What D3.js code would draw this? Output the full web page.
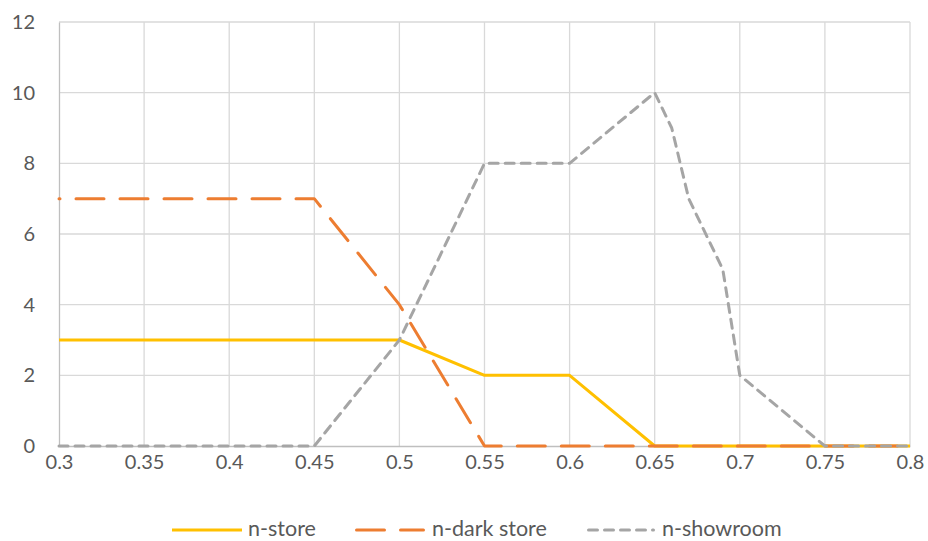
<!DOCTYPE html>
<html>
<head>
<meta charset="utf-8">
<script src="https://cdn.jsdelivr.net/npm/d3@7"></script>
<style>
  html, body { margin: 0; padding: 0; background: #fff; }
  svg text { font-family: Lato, "Open Sans", sans-serif; fill: #595959; }
</style>
</head>
<body>
<svg id="chart" width="928" height="541"></svg>
<script>
// Threshold values on the x axis
const xValues = [0.3, 0.35, 0.4, 0.45, 0.5, 0.55, 0.6, 0.65, 0.66, 0.67, 0.69, 0.7, 0.75, 0.8];

// Counts per facility type
const nStore     = [3, 3, 3, 3, 3, 2, 2, 0, 0, 0, 0, 0, 0, 0];
const nDarkStore = [7, 7, 7, 7, 4, 0, 0, 0, 0, 0, 0, 0, 0, 0];
const nShowroom  = [0, 0, 0, 0, 3, 8, 8, 10, 9, 7, 5, 2, 0, 0];

// Axis ticks
const xTicks = [0.3, 0.35, 0.4, 0.45, 0.5, 0.55, 0.6, 0.65, 0.7, 0.75, 0.8];
const yTicks = [0, 2, 4, 6, 8, 10, 12];

const seriesNames = ["n-store", "n-dark store", "n-showroom"];
const seriesValues = [nStore, nDarkStore, nShowroom];

const styles = [
  { color: "#FFC000", dash: null, offset: 0 },
  { color: "#ED7D31", dash: "28,16", offset: 27 },
  { color: "#A5A5A5", dash: "9,7", offset: 0 }
];

const svg = d3.select("#chart");
const margin = { left: 59, right: 18, top: 22, bottom: 95 };
const W = 928, H = 541;

const x = d3.scaleLinear().domain([0.3, 0.8]).range([margin.left, W - margin.right]);
const y = d3.scaleLinear().domain([0, 12]).range([H - margin.bottom, margin.top]);

// Gridlines
const grid = svg.append("g");
grid.selectAll("line.h").data(yTicks.filter(d => d > 0)).join("line")
  .attr("x1", x(0.3)).attr("x2", x(0.8))
  .attr("y1", d => y(d)).attr("y2", d => y(d))
  .attr("stroke", "#d9d9d9").attr("stroke-width", 1.3);
grid.selectAll("line.v").data(xTicks.filter(d => d > 0.3)).join("line")
  .attr("y1", y(0)).attr("y2", y(12))
  .attr("x1", d => x(d)).attr("x2", d => x(d))
  .attr("stroke", "#d9d9d9").attr("stroke-width", 1.3);

// Axes
const axisFont = "Lato, 'Open Sans', sans-serif";
const yAxis = d3.axisLeft(y).tickValues(yTicks).tickSize(0).tickPadding(24);
const gy = svg.append("g").attr("transform", `translate(${x(0.3)},0)`).call(yAxis);
gy.select(".domain").attr("stroke", "#bfbfbf").attr("stroke-width", 1.3);
gy.selectAll("text").attr("font-size", 20).attr("fill", "#595959").style("font-family", axisFont);

const xAxis = d3.axisBottom(x).tickValues(xTicks).tickSize(0).tickPadding(9)
  .tickFormat(d => String(+d.toFixed(2)));
const gx = svg.append("g").attr("transform", `translate(0,${y(0)})`).call(xAxis);
gx.select(".domain").attr("stroke", "#bfbfbf").attr("stroke-width", 1.3);
gx.selectAll("text").attr("font-size", 20).attr("fill", "#595959").style("font-family", axisFont);

// Series lines
const line = d3.line().x((d, i) => x(xValues[i])).y(d => y(d));
seriesValues.forEach((vals, k) => {
  const p = svg.append("path")
    .attr("d", line(vals))
    .attr("fill", "none")
    .attr("stroke", styles[k].color)
    .attr("stroke-width", 3)
    .attr("stroke-linejoin", "round")
    .attr("stroke-linecap", styles[k].dash ? "round" : "butt");
  if (styles[k].dash) p.attr("stroke-dasharray", styles[k].dash).attr("stroke-dashoffset", styles[k].offset);
});

// Legend
const legendY = 530;
const legendItems = [
  { x0: 172, x1: 242, tx: 248 },
  { x0: 356.5, x1: 423.5, tx: 432 },
  { x0: 588.5, x1: 653.5, tx: 662 }
];
const lg = svg.append("g");
legendItems.forEach((it, k) => {
  const l = lg.append("line")
    .attr("x1", it.x0).attr("x2", it.x1)
    .attr("y1", legendY).attr("y2", legendY)
    .attr("stroke", styles[k].color).attr("stroke-width", 3)
    .attr("stroke-linecap", styles[k].dash ? "round" : "butt");
  if (styles[k].dash) l.attr("stroke-dasharray", styles[k].dash);
  lg.append("text")
    .attr("x", it.tx).attr("y", 536)
    .attr("font-size", 21.5)
    .text(seriesNames[k]);
});
</script>
</body>
</html>
